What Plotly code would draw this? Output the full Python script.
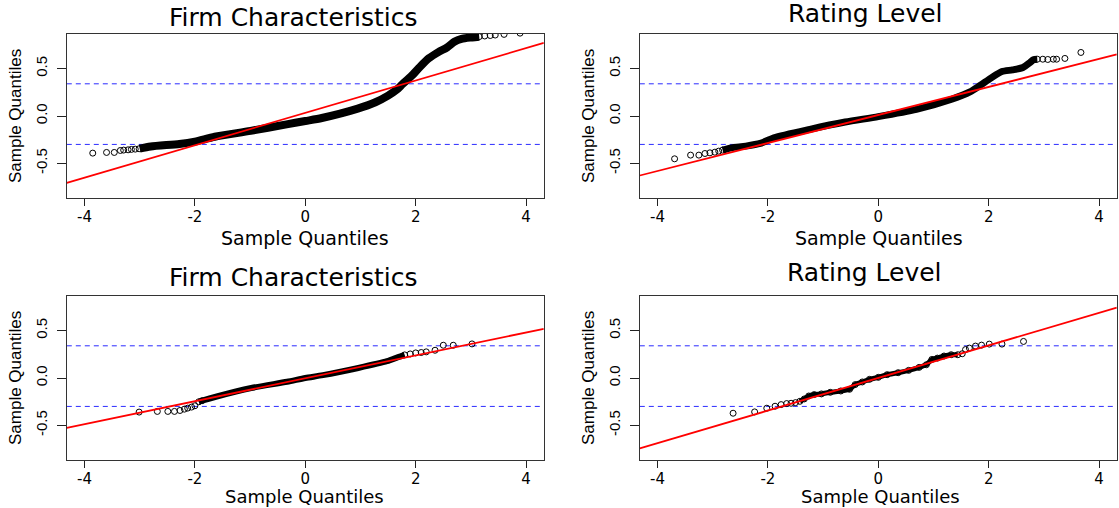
import plotly.graph_objects as go

W, H = 1119, 508

# ---------------- text / axes ----------------
titles = ["Firm Characteristics", "Rating Level", "Firm Characteristics", "Rating Level"]
x_label = "Sample Quantiles"
y_label = "Sample Quantiles"
x_tick_vals = [-4, -2, 0, 2, 4]
x_tick_text = ["-4", "-2", "0", "2", "4"]
y_tick_vals = [-0.5, 0.0, 0.5]
y_tick_text = ["-0.5", "0.0", "0.5"]
x_limits = [-4.32, 4.32]
y_limits = [-0.866, 0.866]

# ---------------- panel 1: Firm Characteristics (top) ----------------
p1_pts_x = [-3.85, -3.60, -3.46, -3.35, -3.29, -3.21, -3.15, -3.08, -3.01,
            3.15, 3.25, 3.35, 3.44, 3.60, 3.89]
p1_pts_y = [-0.392, -0.385, -0.385, -0.364, -0.360, -0.357, -0.353, -0.350, -0.346,
            0.838, 0.845, 0.850, 0.855, 0.862, 0.875]
p1_band_x = [-3.00, -2.80, -2.28, -2.00, -1.64, -0.99, -0.34, 0.00, 0.30, 0.95,
             1.27, 1.50, 1.65, 1.76, 1.92, 2.08, 2.24, 2.41, 2.57, 2.70, 2.83, 3.02, 3.15]
p1_band_y = [-0.345, -0.322, -0.295, -0.270, -0.219, -0.157, -0.088, -0.053, -0.021, 0.078,
             0.145, 0.215, 0.275, 0.336, 0.420, 0.520, 0.610, 0.675, 0.725, 0.785, 0.815, 0.830, 0.838]

# ---------------- panel 2: Rating Level (top) ----------------
p2_pts_x = [-3.69, -3.40, -3.25, -3.14, -3.05, -2.96, -2.89, -2.82,
            2.88, 2.98, 3.07, 3.17, 3.23, 3.38, 3.67]
p2_pts_y = [-0.452, -0.413, -0.413, -0.396, -0.389, -0.382, -0.371, -0.360,
            0.600, 0.600, 0.597, 0.600, 0.600, 0.608, 0.671]
p2_band_x = [-2.82, -2.66, -2.40, -2.14, -1.89, -1.24, -0.60, 0.00, 0.69, 1.33,
             1.66, 1.85, 2.04, 2.24, 2.43, 2.62, 2.75, 2.81, 2.88]
p2_band_y = [-0.360, -0.336, -0.318, -0.290, -0.230, -0.141, -0.064, -0.007, 0.070, 0.177,
             0.254, 0.325, 0.400, 0.470, 0.487, 0.512, 0.565, 0.594, 0.600]

# ---------------- panel 3: Firm Characteristics (bottom) ----------------
p3_pts_x = [-3.01, -2.68, -2.49, -2.37, -2.27, -2.19, -2.13, -2.06, -2.00, -1.93, -1.87,
            1.80, 1.90, 2.00, 2.10, 2.19, 2.35, 2.50, 2.68, 3.02]
p3_pts_y = [-0.360, -0.353, -0.353, -0.353, -0.343, -0.329, -0.318, -0.307, -0.293, -0.251, -0.240,
            0.244, 0.254, 0.265, 0.269, 0.276, 0.293, 0.346, 0.346, 0.360]
p3_band_x = [-1.93, -1.87, -1.62, -0.98, -0.33, 0.00, 0.32, 0.96, 1.48, 1.68, 1.80]
p3_band_y = [-0.251, -0.240, -0.198, -0.106, -0.040, 0.000, 0.030, 0.106, 0.177, 0.220, 0.244]

# ---------------- panel 4: Rating Level (bottom) ----------------
p4_pts_x = [-2.63, -2.24, -2.02, -1.87, -1.76, -1.66, -1.58, -1.50, -1.42, -1.34, -1.26,
            -1.16, -1.03, -0.87, -0.68, -0.52, -0.42, -0.29, -0.16, 0.00, 0.16, 0.36,
            0.55, 0.74, 0.87, 0.97, 1.07, 1.19, 1.32, 1.44, 1.52, 1.58, 1.65, 1.76,
            1.87, 2.01, 2.24, 2.63]
p4_pts_y = [-0.372, -0.358, -0.319, -0.298, -0.281, -0.270, -0.267, -0.260, -0.246, -0.221, -0.190,
            -0.175, -0.168, -0.151, -0.137, -0.119, -0.070, -0.042, -0.014, 0.007, 0.035, 0.056,
            0.081, 0.112, 0.140, 0.196, 0.210, 0.232, 0.246, 0.246, 0.256, 0.300, 0.316, 0.337,
            0.347, 0.358, 0.358, 0.386]
p4_band_x = [-1.42, -1.34, -1.26, -1.16, -1.03, -0.87, -0.68, -0.52, -0.42, -0.29, -0.16,
             0.00, 0.16, 0.36, 0.55, 0.74, 0.87, 0.97, 1.07, 1.19, 1.32, 1.44]
p4_band_y = [-0.246, -0.221, -0.190, -0.175, -0.168, -0.151, -0.137, -0.119, -0.070, -0.042, -0.014,
             0.007, 0.035, 0.056, 0.081, 0.112, 0.140, 0.196, 0.210, 0.232, 0.246, 0.246]

# reference (qqline) parameters per panel
qq_intercept = [0.033, 0.011, -0.003, 0.000]
qq_slope = [0.171, 0.148, 0.121, 0.172]

# dashed horizontal levels per panel
upper_level = [0.34, 0.34, 0.34, 0.34]
lower_level = [-0.30, -0.30, -0.30, -0.30]

panels = [
    (p1_pts_x, p1_pts_y, p1_band_x, p1_band_y, 8),
    (p2_pts_x, p2_pts_y, p2_band_x, p2_band_y, 7),
    (p3_pts_x, p3_pts_y, p3_band_x, p3_band_y, 6),
    (p4_pts_x, p4_pts_y, p4_band_x, p4_band_y, 5),
]

# ---------------- layout geometry (pixels) ----------------
col_px = [(66.8, 543.8), (639.8, 1116.8)]
row_px = [(34, 198), (296, 460)]


def px_x(p):
    return p / W


def px_y(p):
    return 1 - p / H


fig = go.Figure()
TEXT_H = "DejaVu Sans"
TEXT_V = "Liberation Sans"

for i, (px, py, bx, by, bw) in enumerate(panels):
    n = i + 1
    xa = "x" if n == 1 else f"x{n}"
    ya = "y" if n == 1 else f"y{n}"
    # dashed levels
    for lvl in (upper_level[i], lower_level[i]):
        fig.add_trace(go.Scatter(x=x_limits, y=[lvl, lvl], mode="lines",
                                 line=dict(color="#2b2bff", width=1, dash="5px,4px"),
                                 xaxis=xa, yaxis=ya, showlegend=False, hoverinfo="skip"))
    # dense band of points
    fig.add_trace(go.Scatter(x=bx, y=by, mode="lines",
                             line=dict(color="black", width=bw, shape="spline", smoothing=0.7),
                             xaxis=xa, yaxis=ya, showlegend=False, hoverinfo="skip"))
    # individual points
    fig.add_trace(go.Scatter(x=px, y=py, mode="markers",
                             marker=dict(symbol="circle-open", size=6, color="black",
                                         line=dict(color="black", width=1)),
                             xaxis=xa, yaxis=ya, showlegend=False))
    # qq reference line
    ly = [qq_intercept[i] + qq_slope[i] * x for x in x_limits]
    fig.add_trace(go.Scatter(x=x_limits, y=ly, mode="lines",
                             line=dict(color="#ff0000", width=1.8),
                             xaxis=xa, yaxis=ya, showlegend=False, hoverinfo="skip"))

layout = dict(width=W, height=H, margin=dict(l=0, r=0, t=0, b=0),
              paper_bgcolor="white", plot_bgcolor="white", showlegend=False)

for i in range(4):
    n = i + 1
    r, c = divmod(i, 2)
    x0, x1 = col_px[c]
    y0, y1 = row_px[r]
    xk = "xaxis" if n == 1 else f"xaxis{n}"
    yk = "yaxis" if n == 1 else f"yaxis{n}"
    ya = "y" if n == 1 else f"y{n}"
    xa = "x" if n == 1 else f"x{n}"
    layout[xk] = dict(domain=[px_x(x0), px_x(x1)], range=x_limits, anchor=ya,
                      tickvals=x_tick_vals, ticktext=x_tick_text, ticks="outside",
                      ticklen=7, tickwidth=1, tickcolor="#222", showline=True, mirror=True,
                      linecolor="#333", linewidth=1, showgrid=False, zeroline=False,
                      ticklabelstandoff=-2,
                      tickfont=dict(family=TEXT_H, size=15, color="black"))
    layout[yk] = dict(domain=[px_y(y1), px_y(y0)], range=y_limits, anchor=xa,
                      tickvals=y_tick_vals, ticktext=y_tick_text, ticks="outside",
                      ticklen=9, tickwidth=1, tickcolor="#222", showline=True, mirror=True,
                      linecolor="#333", linewidth=1, showgrid=False, zeroline=False,
                      tickangle=-90, ticklabelstandoff=4,
                      tickfont=dict(family=TEXT_V, size=15, color="black"))

fig.update_layout(**layout)

# titles and axis labels
title_pos = [(293, 17), (865, 14), (293, 277), (864, 272)]
xlab_pos = [(305, 237.5, 19), (879, 237.5, 19), (304, 496, 18), (880, 496, 18)]
ylab_pos = [(15, 116), (588, 116), (15, 378), (588, 378)]
ann = []
for i in range(4):
    tx, ty = title_pos[i]
    ann.append(dict(text=titles[i], x=px_x(tx), y=px_y(ty), xref="paper", yref="paper",
                    xanchor="center", yanchor="middle", showarrow=False,
                    font=dict(family=TEXT_H, size=25, color="black")))
    lx, ly_, ls = xlab_pos[i]
    ann.append(dict(text=x_label, x=px_x(lx), y=px_y(ly_), xref="paper", yref="paper",
                    xanchor="center", yanchor="middle", showarrow=False,
                    font=dict(family=TEXT_H, size=ls, color="black")))
    vx, vy = ylab_pos[i]
    ann.append(dict(text=y_label, x=px_x(vx), y=px_y(vy), xref="paper", yref="paper",
                    xanchor="center", yanchor="middle", showarrow=False, textangle=-90,
                    font=dict(family=TEXT_V, size=17, color="black")))
fig.update_layout(annotations=ann)

fig.write_html("out.html")
